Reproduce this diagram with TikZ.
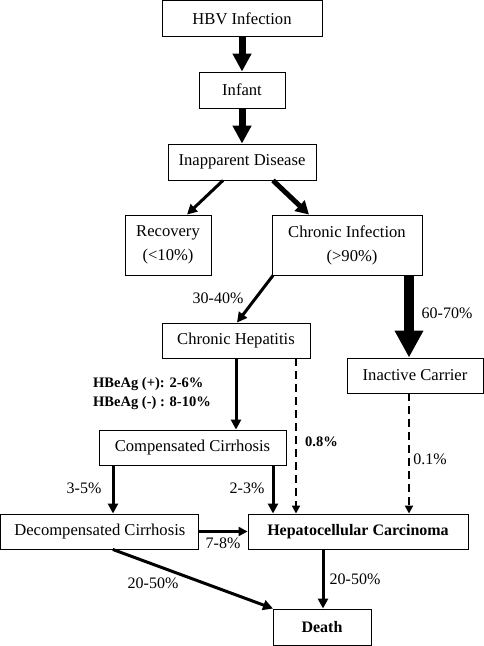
\documentclass[tikz,border=0pt]{standalone}
\usepackage{fontspec}
\setmainfont{Liberation Serif}
\usetikzlibrary{arrows.meta}
\begin{document}
\begin{tikzpicture}[x=1pt,y=-1pt,
  box/.style={draw=black,line width=0.9pt,inner sep=0pt,align=center,font=\fontsize{16.6}{24}\selectfont},
  lbl/.style={inner sep=0pt,font=\fontsize{16}{19}\selectfont},
  blbl/.style={inner sep=0pt,font=\fontsize{14.5}{19}\selectfont\bfseries},
  big/.style={line width=7pt,-{Triangle[width=18pt,length=18pt]}},
  huge/.style={line width=10pt,-{Triangle[width=27pt,length=27pt]}},
  mid/.style={line width=5pt,-{Triangle[width=14pt,length=13pt]}},
  thin/.style={line width=3pt,-{Triangle[width=10pt,length=10pt]}},
  dsh/.style={line width=2.5pt,dash pattern=on 8pt off 5pt,-{Triangle[width=8pt,length=8pt]}}]
\useasboundingbox (0,0) rectangle (484,646);
\node[box,minimum width=160pt,minimum height=35.5pt] (hbv) at (242,18.3) {HBV Infection};
\node[box,minimum width=86pt,minimum height=36pt] (infant) at (242,90) {Infant};
\node[box,minimum width=148pt,minimum height=36pt] (inapp) at (242,162) {Inapparent Disease};
\node[box,minimum width=86pt,minimum height=60pt] (recov) at (168,245) {Recovery\\(<10\%)};
\node[box,minimum width=150pt,minimum height=60pt] (chinf) at (347,245) {Chronic Infection\\\hspace*{10pt}(>90\%)};
\node[box,minimum width=148pt,minimum height=35pt] (chhep) at (236,340.5) {Chronic Hepatitis};
\node[box,minimum width=136pt,minimum height=35pt] (inact) at (415,375.5) {Inactive Carrier};
\node[box,minimum width=187pt,minimum height=35pt] (comp) at (192.5,447.5) {Compensated Cirrhosis};
\node[box,minimum width=198pt,minimum height=35pt] (decomp) at (99.8,531.5) {Decompensated Cirrhosis};
\node[box,minimum width=220pt,minimum height=35pt,font=\fontsize{16}{24}\selectfont\bfseries] (hcc) at (358,531.5) {Hepatocellular Carcinoma};
\node[box,minimum width=98pt,minimum height=36pt,font=\fontsize{16}{24}\selectfont\bfseries] (death) at (322,627) {Death};

\draw[big] (hbv.south) -- (infant.north);
\draw[big] (infant.south) -- (inapp.north);
\draw[thin] ([xshift=-19pt]inapp.south) -- ([xshift=19pt]recov.north);
\draw[mid] ([xshift=31pt]inapp.south) -- ([xshift=-38pt]chinf.north);
\draw[thin] ([xshift=-74pt]chinf.south) -- ([xshift=1pt]chhep.north);
\draw[huge] ([xshift=62pt]chinf.south) -- ([xshift=-6pt]inact.north);
\draw[thin] (chhep.south) -- (chhep.south |- comp.north);
\draw[dsh] ([xshift=60pt]chhep.south) -- ([xshift=60pt]chhep.south |- hcc.north);
\draw[dsh] ([xshift=-6pt]inact.south) -- ([xshift=-6pt]inact.south |- hcc.north);
\draw[thin] ([xshift=-79.5pt]comp.south) -- ([xshift=-79.5pt]comp.south |- decomp.north);
\draw[thin] ([xshift=80.5pt]comp.south) -- ([xshift=80.5pt]comp.south |- hcc.north);
\draw[thin,-{Triangle[width=9pt,length=9pt]}] (decomp.east) -- (hcc.west);
\draw[thin] ([xshift=13pt]decomp.south) -- ([xshift=-49pt]death.north);
\draw[thin] ([xshift=1pt]death.north |- hcc.south) -- ([xshift=1pt]death.north);

\node[lbl] (l3040) at (218,298) {30-40\%};
\node[lbl] (l6070) at (447,313) {60-70\%};
\node[blbl,anchor=west] (lpos) at (93,384) {HBeAg (+): 2-6\%};
\node[blbl,anchor=west] (lneg) at (93,403) {HBeAg (-) : 8-10\%};
\node[blbl,anchor=west] (l08) at (305,442) {0.8\%};
\node[lbl] (l01) at (430,459) {0.1\%};
\node[lbl] (l35) at (84,488) {3-5\%};
\node[lbl] (l23) at (247,488) {2-3\%};
\node[lbl] (l78) at (223,543) {7-8\%};
\node[lbl] (l2050a) at (153,583) {20-50\%};
\node[lbl] (l2050b) at (355,579) {20-50\%};
\end{tikzpicture}
\end{document}
